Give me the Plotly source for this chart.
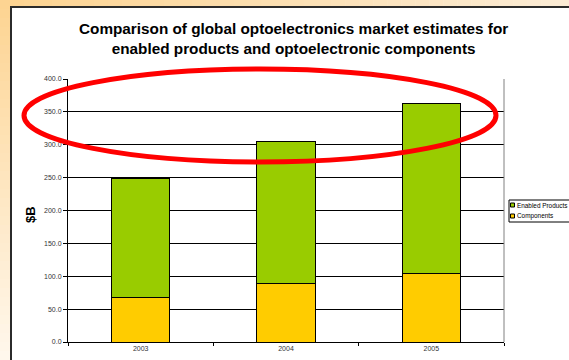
import plotly.graph_objects as go

years = ["2003", "2004", "2005"]
components = [68, 89, 104]
enabled_products = [180, 216, 259]
series_names = ["Components", "Enabled Products"]
series_colors = ["#FFCC00", "#99CC00"]
y_ticks = [0, 50, 100, 150, 200, 250, 300, 350, 400]
y_tick_labels = ["0.0", "50.0", "100.0", "150.0", "200.0", "250.0", "300.0", "350.0", "400.0"]

W, H = 569, 360
L, R, T, B = 68, 65, 79, 18
PW, PH = W - L - R, H - T - B


def px(x):
    return (x - L) / PW


def py(y):
    return (H - B - y) / PH


def mix(c1, c2, t):
    return "rgb(%d,%d,%d)" % tuple(round(a + (b - a) * t) for a, b in zip(c1, c2))


fig = go.Figure()
for vals, name, col in zip([components, enabled_products], series_names, series_colors):
    fig.add_trace(go.Bar(x=years, y=vals, name=name, showlegend=False,
                         marker=dict(color=col, line=dict(color="#000000", width=1))))

shapes = []
annotations = []
orange = (253, 212, 146)
light = (255, 248, 238)
n = 40
for i in range(n):
    y0 = i * H / n
    y1 = (i + 1) * H / n + 0.5
    shapes.append(dict(type="rect", xref="paper", yref="paper", layer="below",
                       x0=px(0), x1=px(10), y0=py(y1), y1=py(y0),
                       line=dict(width=0), fillcolor=mix(orange, light, i / n)))
for i in range(n):
    x0 = 10 + i * (W - 10) / n
    x1 = 10 + (i + 1) * (W - 10) / n + 0.5
    shapes.append(dict(type="rect", xref="paper", yref="paper", layer="below",
                       x0=px(x0), x1=px(x1), y0=py(6), y1=py(0),
                       line=dict(width=0), fillcolor=mix(orange, (251, 236, 214), i / n)))
# panel border
shapes.append(dict(type="line", xref="paper", yref="paper", x0=px(11), x1=px(11),
                   y0=py(H + 5), y1=py(6), line=dict(color="#2b2b2b", width=2)))
shapes.append(dict(type="line", xref="paper", yref="paper", x0=px(10), x1=px(W + 5),
                   y0=py(7), y1=py(7), line=dict(color="#2b2b2b", width=2)))
# plot area right border
shapes.append(dict(type="line", xref="paper", yref="paper", x0=1, x1=1, y0=0, y1=1,
                   line=dict(color="#808080", width=1)))

# legend (drawn manually to match compact legend)
shapes.append(dict(type="rect", xref="paper", yref="paper",
                   x0=px(509), x1=px(W + 10), y0=py(222), y1=py(200),
                   line=dict(color="#000000", width=1), fillcolor="white"))
legend_rows = [(205, 1), (216, 0)]
for yc, idx in legend_rows:
    shapes.append(dict(type="rect", xref="paper", yref="paper",
                       x0=px(510.5), x1=px(514.5), y0=py(yc + 2), y1=py(yc - 2),
                       line=dict(color="#000000", width=1), fillcolor=series_colors[idx]))
    annotations.append(dict(text=series_names[idx], xref="paper", yref="paper",
                            x=px(515), y=py(yc), xanchor="left", yanchor="middle",
                            showarrow=False, font=dict(size=6.4, color="#000000")))

# red ellipse
shapes.append(dict(type="circle", xref="paper", yref="paper",
                   x0=px(24), x1=px(496), y0=py(162), y1=py(69),
                   line=dict(color="#FF0000", width=5)))

annotations += [
    dict(text="<b>Comparison of global optoelectronics market estimates for<br>enabled products and optoelectronic components</b>",
         xref="paper", yref="paper", x=px(293), y=py(38), xanchor="center", yanchor="middle",
         showarrow=False, font=dict(size=15.3, color="#000000")),
    dict(text="<b>$B</b>", xref="paper", yref="paper", x=px(30), y=py(215),
         xanchor="center", yanchor="middle", textangle=-90, showarrow=False,
         font=dict(size=13, color="#000000")),
]

fig.update_layout(
    width=W, height=H,
    margin=dict(l=L, r=R, t=T, b=B, pad=0, autoexpand=False),
    paper_bgcolor="white", plot_bgcolor="white",
    barmode="stack", bargap=0.6,
    font=dict(family="Liberation Sans, Arial, sans-serif", color="#333333"),
    showlegend=False,
    shapes=shapes,
    annotations=annotations,
)
fig.update_yaxes(range=[0, 400], tickvals=y_ticks, ticktext=y_tick_labels,
                 showgrid=True, gridcolor="#000000", gridwidth=1,
                 showline=True, linecolor="#000000", linewidth=1,
                 ticks="outside", ticklen=4, tickcolor="#000000",
                 tickfont=dict(size=7, color="#333333"), zeroline=False)
fig.update_xaxes(showline=True, linecolor="#000000", linewidth=1,
                 ticks="outside", ticklen=3, tickcolor="#000000", tickson="boundaries",
                 tickfont=dict(size=7, color="#333333"))

fig.write_html("out.html", config={"displayModeBar": False},
               post_script="document.body.style.margin='0';document.body.style.overflow='hidden';")
